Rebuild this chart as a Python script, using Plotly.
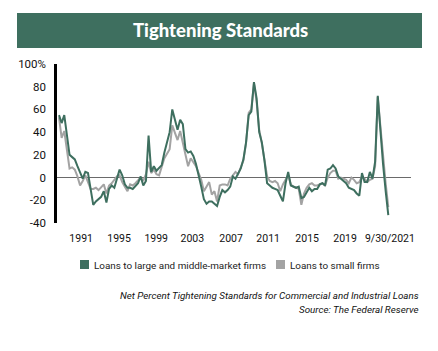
import plotly.graph_objects as go

# Quarterly observations (index 0 = first survey in the chart)
large_mid = [55, 48, 55, 35, 20, 18, 16, 10, 5, -1, 5, 4, -10, -24, -21, -19, -17, -12, -22, -10,
             -7, -9, -2, 7, 2, -6, -9, -9, -10, -7, -5, 1, -7, -3, 37, 5, 10, 6, 9, 11,
             22, 30, 40, 60, 51, 42, 51, 47, 25, 22, 23, 19, 12, 3, -8, -19, -23, -21, -21, -23,
             -25, -17, -11, -13, -11, -8, 1, -1, 3, 8, 16, 31, 55, 58, 84, 70, 40, 31, 15, -5,
             -7, -9, -10, -11, -16, -21, -5, 5, -7, -8, -9, -8, -18, -17, -13, -9, -12, -10, -10, -6,
             -5, -7, 7, 8, 11, 8, 1, -1, -3, -5, -9, -10, -11, -14, -16, 4, -4, -4, 5, -1,
             14, 72, 40, 12, -12, -33]
small = [53, 35, 41, 25, 8, 9, 7, 1, -7, -3, 2, -4, -10, -10, -9, -11, -8, -6, -14, -7,
         -5, -2, 1, 2, -4, -8, -12, -6, -7, -5, -2, 0, -3, 3, 14, 4, 7, 3, 2, 9,
         17, 21, 25, 46, 39, 33, 41, 31, 22, 10, 17, 14, 10, 4, -2, -12, -8, -4, -15, -12,
         -21, -7, -6, -6, -7, -1, 2, 5, 3, 10, 15, 30, 57, 60, 83, 67, 42, 30, 15, 1,
         -3, -4, -3, -5, -12, -6, -2, 2, -6, -8, -9, -10, -24, -14, -9, -6, -5, -7, -7, -6,
         -5, -7, 0, 4, 6, 6, -1, 0, -1, -2, -5, 0, -2, -5, -4, 1, -1, -4, -2, -1,
         10, 71, 45, 18, -5, -26]
idx = list(range(len(large_mid)))

x_tick_labels = ["1991", "1995", "1999", "2003", "2007", "2011", "2015", "2019", "9/30/2021"]
x_tick_index = [8.4, 22.8, 36.9, 50.6, 65.3, 79.4, 94.2, 108.6, 125.6]
y_tick_vals = [100, 80, 60, 40, 20, 0, -20, -40]
y_tick_text = ["100%", "80", "60", "40", "20", "0", "-20", "-40"]

series_names = ["Loans to large and middle-market firms", "Loans to small firms"]
GREEN = "#3e6f5f"
GRAY = "#a3a3a3"

FONT = "Roboto, sans-serif"

# plot area in pixels
L, R, T, B = 57, 411, 64, 223
W, H = 438, 351
def px(x):
    return (x - L) / (R - L)
def py(y):
    return (B - y) / (B - T)

fig = go.Figure()
fig.add_trace(go.Scatter(x=idx, y=small, mode="lines", name=series_names[1],
                         line=dict(color=GRAY, width=2), showlegend=False))
fig.add_trace(go.Scatter(x=idx, y=large_mid, mode="lines", name=series_names[0],
                         line=dict(color=GREEN, width=2), showlegend=False))

ppi = (388.3 - 59) / (len(idx) - 1)
x0 = -(59 - L) / ppi
x1 = (R - 59) / ppi

fig.update_layout(
    width=W, height=H,
    margin=dict(l=L, r=W - R, t=T, b=H - B),
    paper_bgcolor="white", plot_bgcolor="white",
    font=dict(family=FONT, size=12, color="#111111"),
    xaxis=dict(range=[x0, x1], showgrid=False, zeroline=False, showline=False,
               tickmode="array", tickvals=x_tick_index, ticktext=x_tick_labels,
               ticks="", tickfont=dict(size=10.5), ticklabelstandoff=7),
    yaxis=dict(range=[-40, 100], showgrid=False, zeroline=True, zerolinecolor="#6a6a6a",
               zerolinewidth=1, showline=True, linecolor="black", linewidth=2.5,
               tickmode="array", tickvals=y_tick_vals, ticktext=y_tick_text,
               ticks="", tickfont=dict(size=11.5), ticklabelstandoff=6),
    showlegend=False,
)

shapes = [
    dict(type="rect", xref="paper", yref="paper", x0=px(17), x1=px(422), y0=py(48), y1=py(13),
         fillcolor=GREEN, line=dict(width=0), layer="below"),
    dict(type="rect", xref="paper", yref="paper", x0=px(80), x1=px(89), y0=py(269), y1=py(260),
         fillcolor=GREEN, line=dict(width=0)),
    dict(type="rect", xref="paper", yref="paper", x0=px(276), x1=px(285), y0=py(269), y1=py(260),
         fillcolor=GRAY, line=dict(width=0)),
]
fig.update_layout(shapes=shapes)

ann = [
    dict(text="Tightening Standards", x=px(220), y=py(30), xref="paper", yref="paper",
         showarrow=False, xanchor="center", yanchor="middle",
         font=dict(family="Lato, Open Sans, sans-serif", size=18.5, color="white", weight=900)),
    dict(text=series_names[0], x=px(92), y=py(265), xref="paper", yref="paper",
         showarrow=False, xanchor="left", yanchor="middle", font=dict(size=9.9, color="#222")),
    dict(text=series_names[1], x=px(288), y=py(265), xref="paper", yref="paper",
         showarrow=False, xanchor="left", yanchor="middle", font=dict(size=9.9, color="#222")),
    dict(text="<i>Net Percent Tightening Standards for Commercial and Industrial Loans</i>",
         x=px(421), y=py(295), xref="paper", yref="paper", showarrow=False,
         xanchor="right", yanchor="middle", font=dict(size=9.8, color="#111")),
    dict(text="<i>Source: The Federal Reserve</i>",
         x=px(421), y=py(309), xref="paper", yref="paper", showarrow=False,
         xanchor="right", yanchor="middle", font=dict(size=9.8, color="#111")),
]
fig.update_layout(annotations=ann)

fig.write_html("out.html")
